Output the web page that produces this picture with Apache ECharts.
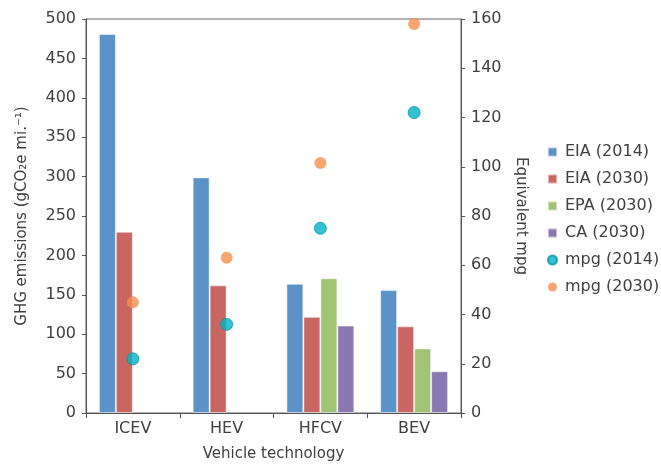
<!DOCTYPE html>
<html><head><meta charset="utf-8">
<script src="https://cdn.jsdelivr.net/npm/echarts@6/dist/echarts.min.js"></script>
<style>html,body{margin:0;padding:0;background:#fff}#c{width:661px;height:468px}</style>
</head><body><div id="c"></div>
<script>
const categories = ['ICEV', 'HEV', 'HFCV', 'BEV'];
const eia2014 = [481, 299, 164, 156];
const eia2030 = [230, 162, 122, 110];
const epa2030 = [null, null, 171, 82];
const ca2030 = [null, null, 111, 53];
const mpg2014 = [22, 36, 75, 122];
const mpg2030 = [45, 63, 101.5, 158];
const ghgTicks = [0, 500, 50];
const mpgTicks = [0, 160, 20];

const FONT = 'DejaVu Sans';
const txt = '#404040';
const chart = echarts.init(document.getElementById('c'));
function bar(name, data, color) {
  return { name, type: 'bar', data, barGap: '0%', barCategoryGap: '27.5%',
    itemStyle: { color, borderColor: 'rgba(255,255,255,0.5)', borderWidth: 1 } };
}
chart.setOption({
  animation: false,
  textStyle: { fontFamily: FONT },
  grid: { left: 86, right: 200, top: 19, bottom: 55, show: true, borderColor: '#666', borderWidth: 1 },
  legend: {
    orient: 'vertical', left: 542, top: 139, itemWidth: 9, itemHeight: 9, itemGap: 11,
    textStyle: { fontFamily: FONT, fontSize: 16, color: txt, padding: [0, 0, 0, 3] },
    data: [
      { name: 'EIA (2014)', icon: 'rect' }, { name: 'EIA (2030)', icon: 'rect' },
      { name: 'EPA (2030)', icon: 'rect' }, { name: 'CA (2030)', icon: 'rect' },
      { name: 'mpg (2014)', icon: 'circle' }, { name: 'mpg (2030)', icon: 'circle' }
    ]
  },
  xAxis: {
    type: 'category', data: categories,
    name: 'Vehicle technology', nameLocation: 'middle', nameGap: 34,
    nameTextStyle: { fontFamily: FONT, fontSize: 15, color: txt },
    axisLine: { lineStyle: { color: '#555' } },
    axisTick: { show: true, length: 5, lineStyle: { color: '#555' } },
    axisLabel: { fontFamily: FONT, fontSize: 16, color: txt, margin: 8 }
  },
  yAxis: [{
    type: 'value', min: ghgTicks[0], max: ghgTicks[1], interval: ghgTicks[2],
    name: 'GHG emissions (gCO₂e mi.⁻¹)', nameLocation: 'middle', nameGap: 56,
    nameTextStyle: { fontFamily: FONT, fontSize: 15, color: txt },
    axisLine: { show: true, lineStyle: { color: '#555' } },
    axisTick: { show: true, length: 4, lineStyle: { color: '#555' } },
    splitLine: { show: false },
    axisLabel: { fontFamily: FONT, fontSize: 16, color: txt, margin: 10 }
  }, {
    type: 'value', position: 'right', min: mpgTicks[0], max: mpgTicks[1], interval: mpgTicks[2],
    name: 'Equivalent mpg', nameLocation: 'middle', nameGap: 52, nameRotate: -90,
    nameTextStyle: { fontFamily: FONT, fontSize: 15, color: txt },
    axisLine: { show: true, lineStyle: { color: '#555' } },
    axisTick: { show: true, length: 4, lineStyle: { color: '#555' } },
    splitLine: { show: false },
    axisLabel: { fontFamily: FONT, fontSize: 16, color: txt, margin: 10 }
  }],
  series: [
    bar('EIA (2014)', eia2014, '#5b92c7'),
    bar('EIA (2030)', eia2030, '#c96661'),
    bar('EPA (2030)', epa2030, '#a1c374'),
    bar('CA (2030)', ca2030, '#8a78b1'),
    { name: 'mpg (2014)', type: 'scatter', yAxisIndex: 1, data: mpg2014, symbolSize: 12,
      itemStyle: { color: '#00b3c7', borderColor: '#0795a6', borderWidth: 1 }, z: 5 },
    { name: 'mpg (2030)', type: 'scatter', yAxisIndex: 1, data: mpg2030, symbolSize: 12,
      itemStyle: { color: '#f5904e', borderColor: '#f5904e', borderWidth: 0 }, z: 5 }
  ]
});
</script></body></html>
